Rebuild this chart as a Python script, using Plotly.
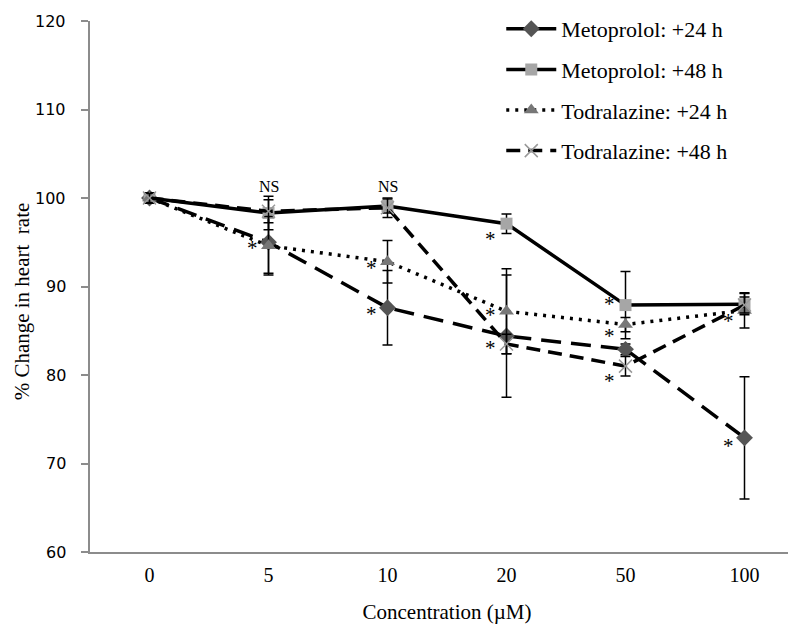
import plotly.graph_objects as go

concentrations = ["0", "5", "10", "20", "50", "100"]

metoprolol_24 = [100, 95.0, 87.6, 84.4, 82.9, 72.9]
metoprolol_24_err = [0.6, 3.5, 4.2, 6.9, 0.6, 6.9]

metoprolol_48 = [100, 98.3, 99.1, 97.1, 87.9, 88.0]
metoprolol_48_err = [0.6, 1.9, 0.8, 1.1, 3.8, 1.2]

todralazine_24 = [100, 94.6, 92.8, 87.2, 85.7, 87.3]
todralazine_24_err = [0.6, 3.3, 2.4, 4.8, 0.8, 2.0]

todralazine_48 = [100, 98.5, 98.9, 83.5, 81.0, 87.9]
todralazine_48_err = [0.5, 1.3, 1.1, 1.1, 1.1, 0.9]

# y axis tick values and labels
y_ticks = [60, 70, 80, 90, 100, 110, 120]
y_tick_labels = ["60", "70", "80", "90", "100", "110", "120"]

# significance marks: (category, value)
star_marks = [("5", 94.6), ("10", 92.3), ("10", 87.1), ("20", 95.6), ("20", 87.0),
              ("20", 83.3), ("50", 88.2), ("50", 84.6), ("50", 79.6),
              ("100", 86.3), ("100", 72.2)]
ns_marks = [("5", 101.3), ("10", 101.3)]

y_title = "% Change in heart  rate"
x_title = "Concentration (µM)"

serif = "Liberation Serif"
axis_grey = "#8c8c8c"

fig = go.Figure()

def add(name, y, err, marker, line):
    fig.add_trace(go.Scatter(
        x=concentrations, y=y, name=name, mode="lines+markers",
        line=line, marker=marker, legendgroup=name,
        error_y=dict(type="data", array=err, visible=True, color="black",
                     thickness=1.5, width=5),
    ))

add("Metoprolol: +24 h", metoprolol_24, metoprolol_24_err,
    dict(symbol="diamond", size=13, color="#555555"),
    dict(color="black", width=3.5, dash="20px,10px"))
add("Metoprolol: +48 h", metoprolol_48, metoprolol_48_err,
    dict(symbol="square", size=12, color="#a6a6a6"),
    dict(color="black", width=3.5))
add("Todralazine: +24 h", todralazine_24, todralazine_24_err,
    dict(symbol="triangle-up", size=13, color="#777777"),
    dict(color="black", width=3.5, dash="3px,6px"))
add("Todralazine: +48 h", todralazine_48, todralazine_48_err,
    dict(symbol="x-thin", size=13, color="#999999", line=dict(color="#999999", width=1.5)),
    dict(color="black", width=3.5, dash="14px,8px"))

annotations = []
for cat, val in star_marks:
    annotations.append(dict(x=concentrations.index(cat), y=val, xref="x", yref="y", text="*",
                            showarrow=False, xshift=-16, yshift=-2,
                            font=dict(family=serif, size=21, color="black")))
for cat, val in ns_marks:
    annotations.append(dict(x=concentrations.index(cat), y=val, xref="x", yref="y", text="NS",
                            showarrow=False, font=dict(family=serif, size=16, color="black")))
# y tick labels, held away from the axis line as in the original
for v, lab in zip(y_ticks, y_tick_labels):
    annotations.append(dict(x=0, y=v, xref="paper", yref="y", text=lab, showarrow=False,
                            xanchor="right", yanchor="middle", xshift=-22,
                            font=dict(family="DejaVu Sans", size=16, color="black")))
annotations.append(dict(x=0, y=0.472, xref="paper", yref="paper", text=y_title,
                        textangle=-90, showarrow=False, xanchor="center", yanchor="middle",
                        xshift=-68, font=dict(family=serif, size=21, color="black")))

fig.update_layout(
    width=796, height=637,
    margin=dict(l=82, r=0, t=6, b=93),
    paper_bgcolor="white", plot_bgcolor="white",
    showlegend=True,
    legend=dict(x=0.576, y=1.025, xanchor="left", yanchor="top",
                font=dict(family=serif, size=22, color="black"),
                tracegroupgap=9, itemwidth=50, bgcolor="rgba(0,0,0,0)"),
    annotations=annotations,
    xaxis=dict(type="category", range=[-0.5, 5.5], showgrid=False, zeroline=False,
               automargin=False,
               showline=True, linecolor=axis_grey, linewidth=1.5, ticks="",
               ticklabelstandoff=4,
               tickfont=dict(family=serif, size=20, color="black"),
               title=dict(text=x_title, font=dict(family=serif, size=21, color="black"),
                          standoff=20)),
    yaxis=dict(range=[60, 120], tickvals=y_ticks, showgrid=False, zeroline=False,
               automargin=False, showticklabels=False,
               showline=True, linecolor=axis_grey, linewidth=1.5, ticks="outside",
               ticklen=7, tickwidth=1.5, tickcolor=axis_grey),
)

fig.write_html("out.html")
